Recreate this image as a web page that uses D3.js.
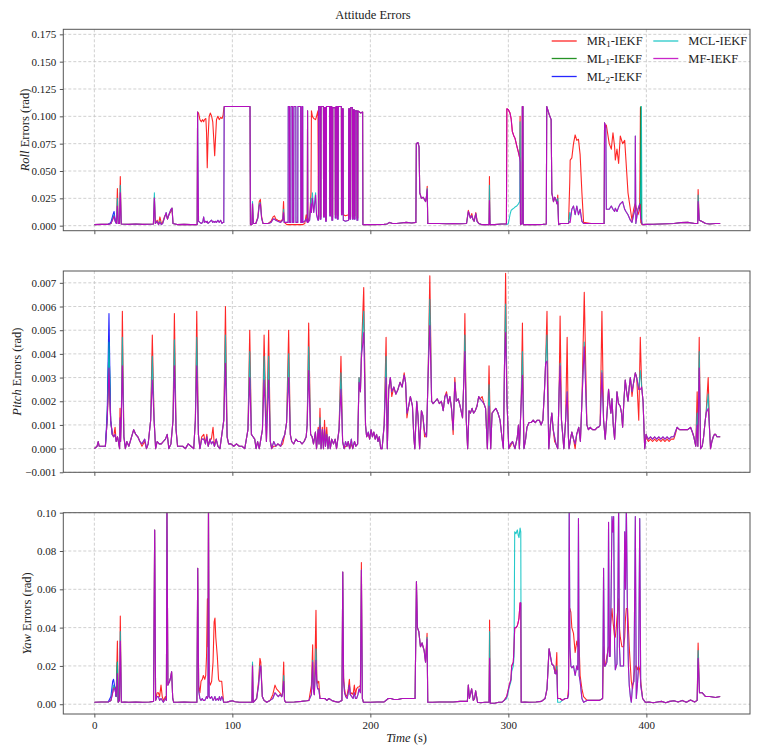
<!DOCTYPE html>
<html><head><meta charset="utf-8">
<script src="https://cdn.jsdelivr.net/npm/d3@7"></script>
<style>body{margin:0;background:#fff} text{font-family:"Liberation Serif","Times New Roman",serif;fill:#222}</style>
</head><body><svg id="c" width="760" height="755"></svg>
<script>
// ---------------- DATA ----------------
const seriesNames = ["MR1-IEKF","ML1-IEKF","ML2-IEKF","MCL-IEKF","MF-IEKF"];
const xTicks = [0,100,200,300,400];
const rollTicks = [0,0.025,0.05,0.075,0.1,0.125,0.15,0.175];
const pitchTicks = [-0.001,0,0.001,0.002,0.003,0.004,0.005,0.006,0.007];
const yawTicks = [0,0.02,0.04,0.06,0.08,0.1];

const rollTime = [
0,5,10,12,13.5,14.3,15.2,16,16.7,17.3,
18.2,18.8,19.5,25,30,35,40,42.8,43.5,44.2,
45.5,46.5,47.5,48.5,49.5,51,52,53,54,55.5,
56.3,57,60,65,70,74.5,74.8,75.5,76.5,77.5,
78.5,79.2,79.8,80.8,81.3,81.8,82.4,83.2,84,85,
85.8,86.5,87.2,87.8,88.5,89.5,90.5,91.5,92.5,93.3,
93.8,94.1,112.8,113.1,114.2,114.6,115.2,117,118.5,119.5,
120.3,121.2,122.2,126,128,129.5,130.5,131.5,133,135,
136.5,137.1,137.6,139.5,140.4,140.5,141.4,141.5,142.4,142.5,
143.6,143.7,144.5,144.6,146,146.1,147.4,147.5,149.5,149.6,
150.3,150.4,151,151.1,152.5,153.5,154.3,154.5,154.7,156,
157,157.3,158,159,160.3,161,162,162.4,162.5,163.5,
163.6,164.2,164.3,166,166.1,166.7,166.8,167.5,167.6,168.1,
168.2,170.5,170.6,171.1,171.2,172,172.1,172.7,172.8,174.5,
174.6,175.1,175.2,176,176.1,176.7,176.8,179,179.1,179.5,
179.6,180.3,180.4,182,184.2,184.3,185,185.1,185.7,185.8,
187,187.1,187.5,187.6,188.3,188.4,188.9,189,190.2,190.3,
190.9,191,193,194.4,194.6,200,210,212,214,216,
219,222,226,230,233,233.3,234.5,235.3,235.8,237,
238.3,239.2,240,240.6,241.2,241.6,245,250,255,260,
265,269.7,271,272.5,273.5,274.3,275.2,276.4,277.3,278.5,
280.5,286,286.3,286.7,290,295,298.6,298.9,300,301.2,
302,302.9,304,304.8,306.1,307.3,308.2,308.5,308.8,309.9,
310.1,310.6,310.8,315,320,325,327.5,327.8,329.5,331,
331.5,332.7,333.6,334.4,335.2,335.8,336.4,338,343.6,344.5,
344.8,346,347.2,348.4,349.6,350.8,352,353.3,354.5,360,
369.4,369.7,370.6,371,373.1,374.6,375.8,377,377.5,378.7,
379.9,381.1,382.8,384.3,385.2,386.7,388.4,389.6,390.8,391.8,
392,392.4,393.9,395.2,395.7,396,396.4,396.8,397.3,400,
405,410,415,420,425,430,435,437.2,437.5,438.3,
440,442.9,446,450,453.5];
const rollMR1 = [
.001,.0012,.0012,.002,.007,.009,.004,.003,.034,.002,
.002,.045,.0015,.0012,.0015,.0012,.0013,.0015,.026,.002,
.005,.001,.008,.002,.003,.009,.010,.006,.010,.013,
.016,.002,.001,.0012,.001,.001,.104,.103,.097,.095,
.097,.095,.097,.098,.085,.053,.080,.100,.103,.100,
.095,.080,.064,.080,.097,.100,.097,.099,.098,.101,
.107,.109,.109,.001,.001,.020,.002,.002,.008,.022,
.024,.008,.002,.002,.004,.008,.009,.006,.005,.004,
.006,.022,.003,.001,.001,.001,.001,.001,.001,.001,
.001,.001,.001,.001,.001,.001,.001,.001,.001,.001,
.001,.001,.001,.001,.002,.010,.004,.105,.003,.008,
.030,.105,.100,.098,.097,.100,.105,.008,.109,.109,
.008,.008,.109,.109,.010,.010,.108,.108,.006,.006,
.109,.109,.012,.012,.109,.109,.008,.008,.108,.108,
.010,.010,.109,.109,.009,.009,.109,.109,.012,.012,
.107,.107,.010,.009,.010,.107,.107,.008,.008,.108,
.108,.008,.008,.106,.106,.009,.009,.105,.105,.007,
.007,.105,.103,.104,.001,.001,.0012,.0015,.003,.002,
.002,.0025,.003,.0025,.003,.075,.076,.072,.030,.025,
.026,.024,.022,.026,.036,.002,.002,.002,.0018,.002,
.0018,.002,.014,.007,.011,.006,.004,.012,.005,.002,
.001,.001,.045,.001,.001,.0015,.0015,.107,.106,.103,
.098,.086,.082,.080,.073,.067,.062,.100,.001,.002,
.109,.109,.001,.001,.001,.0012,.0015,.109,.102,.097,
.030,.022,.026,.024,.020,.028,.001,.002,.002,.040,
.060,.062,.075,.083,.078,.079,.065,.030,.003,.002,
.002,.094,.090,.092,.075,.070,.085,.072,.060,.070,
.057,.082,.075,.078,.060,.030,.015,.005,.015,.020,
.020,.018,.010,.015,.108,.003,.002,.001,.001,.0012,
.0013,.0015,.0018,.002,.0028,.003,.002,.002,.033,.005,
.004,.002,.0015,.002,.002];
const rollML1Time = [394.8,395.2,395.7,396,396.4,396.8];
const rollML1 = [.015,.020,.020,.109,.003,.002];
const rollML2Time = [10,12,13.5,14.3,15.2,16];
const rollML2 = [.0012,.003,.010,.013,.004,.002];
const rollMCL = [
.001,.0012,.0012,.002,.008,.010,.004,.002,.025,.002,
.002,.037,.0015,.0012,.0015,.0012,.0013,.0015,.030,.002,
.004,.001,.004,.001,.002,.008,.012,.006,.010,.015,
.016,.002,.001,.0012,.001,.001,.104,.004,.003,.002,
.003,.008,.003,.004,.003,.004,.002,.003,.004,.005,
.003,.004,.003,.004,.003,.005,.003,.005,.002,.003,
.003,.109,.109,.001,.001,.022,.002,.002,.007,.020,
.021,.007,.002,.002,.003,.006,.006,.005,.004,.003,
.005,.015,.003,.003,.003,.109,.109,.003,.003,.109,
.109,.003,.003,.109,.109,.003,.003,.109,.109,.003,
.003,.109,.109,.003,.004,.006,.003,.105,.003,.005,
.025,.012,.030,.012,.030,.010,.005,.005,.109,.109,
.006,.006,.109,.109,.008,.008,.108,.108,.004,.004,
.109,.109,.009,.009,.109,.109,.005,.005,.108,.108,
.007,.007,.109,.109,.006,.006,.109,.109,.010,.010,
.107,.107,.005,.004,.005,.107,.107,.006,.006,.108,
.108,.006,.006,.106,.106,.006,.006,.105,.105,.005,
.005,.105,.103,.104,.001,.001,.0012,.0015,.003,.002,
.002,.0025,.003,.0025,.003,.075,.076,.072,.030,.025,
.026,.024,.022,.026,.034,.002,.002,.002,.0018,.002,
.0018,.002,.013,.007,.009,.006,.004,.011,.004,.002,
.001,.001,.037,.001,.001,.0015,.0015,.001,.002,.010,
.014,.015,.016,.017,.018,.020,.022,.095,.001,.002,
.109,.109,.001,.001,.001,.0012,.0015,.109,.102,.097,
.030,.022,.026,.024,.020,.025,.001,.002,.002,.012,
.006,.015,.018,.010,.018,.010,.015,.004,.002,.002,
.002,.094,.090,.015,.015,.018,.015,.013,.016,.013,
.017,.020,.022,.015,.013,.010,.005,.003,.010,.015,
.082,.002,.015,.020,.020,.040,.109,.002,.001,.0012,
.0013,.0015,.0018,.002,.0028,.003,.002,.002,.028,.005,
.004,.002,.0015,.002,.002];
const rollMF = [
.001,.0012,.0012,.002,.006,.009,.004,.002,.018,.002,
.002,.030,.0015,.0012,.0015,.0012,.0013,.0015,.025,.002,
.004,.001,.003,.001,.002,.008,.012,.006,.010,.015,
.016,.002,.001,.0012,.001,.001,.104,.004,.003,.002,
.003,.008,.003,.004,.003,.004,.002,.003,.004,.005,
.003,.004,.003,.004,.003,.005,.003,.005,.002,.003,
.003,.109,.109,.001,.001,.020,.002,.002,.007,.018,
.020,.007,.002,.002,.003,.006,.006,.005,.004,.003,
.005,.012,.003,.003,.003,.109,.109,.003,.003,.109,
.109,.003,.003,.109,.109,.003,.003,.109,.109,.003,
.003,.109,.109,.003,.004,.006,.003,.105,.003,.005,
.020,.012,.025,.012,.028,.010,.005,.005,.109,.109,
.006,.006,.109,.109,.008,.008,.108,.108,.004,.004,
.109,.109,.009,.009,.109,.109,.005,.005,.108,.108,
.007,.007,.109,.109,.006,.006,.109,.109,.010,.010,
.107,.107,.005,.004,.005,.107,.107,.006,.006,.108,
.108,.006,.006,.106,.106,.006,.006,.105,.105,.005,
.005,.105,.103,.104,.001,.001,.0012,.0015,.003,.002,
.002,.0025,.003,.0025,.003,.075,.076,.072,.030,.025,
.026,.024,.022,.026,.033,.002,.002,.002,.0018,.002,
.0018,.002,.013,.007,.009,.006,.004,.011,.004,.002,
.001,.001,.023,.001,.001,.0015,.0015,.107,.106,.103,
.098,.086,.082,.080,.073,.067,.062,.058,.001,.002,
.109,.109,.001,.001,.001,.0012,.0015,.109,.102,.097,
.030,.022,.026,.024,.020,.022,.001,.002,.002,.004,
.003,.015,.018,.010,.018,.010,.015,.004,.002,.002,
.002,.094,.090,.015,.015,.018,.015,.013,.016,.013,
.017,.020,.022,.015,.013,.010,.005,.003,.010,.015,
.082,.002,.015,.020,.010,.006,.005,.002,.001,.0012,
.0013,.0015,.0018,.002,.0028,.003,.002,.002,.022,.005,
.004,.002,.0015,.002,.002];

const pitchTime = [
0,2,2.8,3.5,8,9.3,10.6,11.8,13,14,
15,15.8,16.8,18.3,18.6,19,19.6,20.3,21.4,22.5,
23.5,25,26.5,28.5,30,31.5,33,34.5,36.5,37.8,
39,40.8,42,43.3,44.4,45.5,47,48.5,50,51.5,
52.8,54,55.5,57,58,59.2,60.3,62,64,66,
68,70,72,73.2,74.2,75.4,76.5,77.8,79.3,80.5,
81.5,82.5,83.8,84.8,86,87,88.3,89.5,91,93.8,
95,96.2,97.3,99,101,103,105,107,109,111.3,
112.6,113.8,115,116.2,117.2,118.3,119.5,121.8,123,124.7,
126.3,127.5,128.5,130,131.5,133,135,136.5,138,139.3,
140.8,142,143,144.5,146,147.5,149,150.5,152,153.5,
154.2,155.3,156.7,157.8,158.8,160.2,161,162.2,162.8,163.5,
164.3,165.2,166,166.8,167.5,168.4,169.3,170.2,171,172,
173.3,174.5,175.5,177.3,178.7,179.9,181,182,183,184,
185,186.2,187.2,188.5,189.5,190.8,191.8,192.8,193.5,195.2,
196.5,197.3,198.5,199.5,200.5,201.5,202.5,203.5,204.5,205.5,
206.5,207.5,208.5,210,211.4,212.3,213.3,214.5,215.5,217,
218.5,220,221.5,223,224.5,225.5,226.5,227.5,229,230.5,
231.5,232.2,233.6,234.5,235.7,237,238,239.3,240.7,241.8,
243.1,244.4,245.5,247,248.5,250,251.5,252.8,254,255.2,
256.5,257.6,258.8,260,261.2,262.3,263.7,265,266.8,267.8,
268.5,269.5,270.5,271.5,272.5,273.7,274.8,276,277.3,278.5,
279.5,281,282.3,283.5,284.8,286,287.2,288.2,289.5,291,
292.5,294,295.3,296.4,297.2,298,299,300.3,301.5,303,
304.8,306.5,307.3,308,309.3,310.2,311.3,312.5,313.5,315,
316.5,318,319.5,321,322.5,323.7,325,326.2,327,328,
329.3,330.5,331.5,332.5,333.5,334.5,335.8,336.8,337.5,338.5,
339.5,340.2,341.5,342.6,343.5,344,345,346,347.2,348.4,
349.5,351,352.2,353.3,355,356.9,358,359.3,361,363,
364.5,365.4,366.5,367.8,369,370.2,371.5,372.6,373.5,374.3,
375.1,376,377,378,378.7,379.8,381,382,382.8,383.7,
384.7,385.7,386.7,387.6,388.4,389.6,390.8,392,393,394.5,
395.6,396.6,397.6,398.8,399.8,400.5,401.5,403,404.5,406,
407.5,409,410.5,412,413.5,415,416.5,418,419.9,421,
422.3,424,426,428,430,432,433.3,434.4,435.8,436.8,
437.3,438.3,439.3,440.5,441.5,442.5,443.3,444.8,445.8,446.5,
447.5,448.5,449.3,450.2,451.2,452.3,453.5];
const pitchMR1 = [
0,.0001,.0003,.0001,.0001,.0012,.0033,.0012,.0006,.0005,
.0009,.0003,.0005,0,.0017,.0003,.0015,.0058,.0005,0,
.0003,.0001,.0004,.0008,.0006,.0005,.0003,.0001,.0003,0,
.0002,.0012,.0048,.0012,0,.0003,.0002,.0002,.0003,.0004,
.0006,0,.0002,.0012,.0057,.0008,.0001,.0001,.0001,0,
.0002,.0001,0,.0012,.0058,.0006,0,.0005,.0006,.0002,
.0006,.0001,.0004,.0004,.0009,.0001,.0004,.0001,0,.0012,
.0060,.0005,.0002,.0002,.0001,.0002,.0001,.0001,0,.0008,
.0050,.0006,.0005,.0004,0,.0003,0,.0008,.0048,.0003,
.0050,.0003,0,.0001,.0001,.0002,.0001,.0002,.0006,.0011,
.0050,.0006,.0003,.0002,.0004,.0003,.0003,.0002,.0003,.0005,
.0010,.0053,.0006,.0005,.0002,.0007,0,.0009,.0002,.0017,
0,.0009,0,.0012,.0001,.0009,0,.0005,0,.0004,
.0002,.0004,0,.0008,.0039,.0003,0,.0001,.0001,.0003,
0,.0002,0,.0003,.0001,.0002,.0030,.0024,.0040,.0068,
.0010,.0005,.0006,.0004,.0008,.0005,.0007,.0004,.0006,.0003,
.0005,0,0,.0010,.0047,0,.0025,.0030,.0022,.0026,
.0023,.0025,.0028,.0026,.0032,.0028,.0013,.0017,.0022,.0018,
.0005,0,.0020,.0014,0,.0016,.0014,.0005,.0005,.0030,
.0073,.0020,.0019,.0020,.0021,.0019,.0020,.0016,.0022,.0024,
.0019,.0022,.0017,.0006,.0030,.0020,.0021,.0018,.0013,.0030,
.0057,.0012,0,.0016,.0015,.0017,.0015,.0016,.0018,.0022,
.0021,.0022,.0019,.0017,0,.0035,0,.0015,.0016,.0017,
.0015,.0012,.0005,0,.0035,.0074,.0020,0,.0001,.0003,
0,.0005,.0010,0,.0020,.0053,0,.0004,.0009,.0011,
.0011,.0012,.0011,.0012,.0012,.0010,.0012,.0025,.0036,.0058,
0,.0010,.0015,.0008,.0003,.0002,0,.0025,.0056,.0012,
.0005,0,.0012,.0047,.0005,0,.0004,.0007,.0004,0,
.0006,.0009,.0003,.0020,.0066,.0010,.0008,.0009,.0008,.0008,
.0009,.0009,.0010,.0058,.0012,.0004,.0015,.0025,.0019,.0015,
.0021,.0010,.0004,.0015,.0024,.0019,.0018,.0015,.0009,.0020,
.0029,.0024,.0020,.0026,.0030,.0022,.0028,.0032,.0030,.0012,
.0047,.0026,.0020,0,.0006,.0004,.0003,.0004,.0003,.0004,
.0003,.0004,.0003,.0004,.0003,.0004,.0003,.0004,.0004,.0006,
.0009,.0008,.0008,.0008,.0008,.0009,.0007,.0005,.0001,.0024,
.0001,.0047,0,.0001,.0005,.0011,.0015,.0030,.0008,0,
.0003,.0005,.0006,.0006,.0005,.0005,.0005];
const pitchML1Time = [9.3,10.6,11.8];
const pitchML1 = [.0012,.0045,.0012];
const pitchML2Time = [8,9.3,10.6,11.8,13];
const pitchML2 = [.0001,.0015,.0057,.0012,.0006];
const pitchMCL = [
0,.0001,.0003,.0001,.0001,.0012,.0045,.0012,.0006,.0005,
.0006,.0003,.0005,0,.0012,.0003,.0015,.0047,.0005,0,
.0003,.0001,.0004,.0008,.0006,.0005,.0003,.0002,.0004,0,
.0002,.0012,.0039,.0012,0,.0003,.0002,.0002,.0003,.0004,
.0006,0,.0002,.0012,.0046,.0008,.0001,.0001,.0001,0,
.0002,.0001,0,.0012,.0047,.0006,0,.0004,.0004,.0002,
.0005,.0001,.0004,.0002,.0003,.0001,.0004,.0001,0,.0012,
.0048,.0005,.0002,.0002,.0001,.0002,.0001,.0001,0,.0008,
.0041,.0006,.0005,.0004,0,.0003,0,.0008,.0039,.0003,
.0039,.0003,0,.0003,.0001,.0002,.0001,.0004,.0006,.0011,
.0040,.0006,.0003,.0002,.0004,.0003,.0003,.0002,.0003,.0005,
.0010,.0043,.0006,.0005,.0002,.0007,0,.0008,.0002,.0013,
0,.0008,0,.0008,.0001,.0006,0,.0005,0,.0004,
.0002,.0004,0,.0008,.0032,.0003,0,.0003,.0001,.0003,
0,.0004,0,.0003,.0001,.0002,.0030,.0024,.0040,.0058,
.0010,.0005,.0007,.0004,.0008,.0005,.0007,.0004,.0006,.0003,
.0005,0,0,.0010,.0039,0,.0025,.0030,.0024,.0026,
.0023,.0025,.0028,.0026,.0031,.0028,.0015,.0017,.0022,.0018,
.0005,0,.0020,.0014,0,.0016,.0014,.0007,.0005,.0030,
.0063,.0020,.0019,.0020,.0021,.0019,.0020,.0016,.0022,.0023,
.0019,.0022,.0017,.0008,.0028,.0020,.0021,.0018,.0013,.0030,
.0048,.0012,0,.0016,.0015,.0017,.0015,.0016,.0018,.0022,
.0021,.0020,.0019,.0017,0,.0027,0,.0015,.0016,.0017,
.0015,.0012,.0005,0,.0035,.0061,.0020,0,.0002,.0003,
0,.0005,.0010,0,.0020,.0041,0,.0004,.0009,.0011,
.0011,.0012,.0011,.0012,.0012,.0010,.0012,.0025,.0036,.0048,
0,.0010,.0015,.0008,.0005,.0002,0,.0025,.0036,.0012,
.0005,0,.0012,.0024,.0005,0,.0004,.0007,.0004,.0002,
.0006,.0009,.0003,.0020,.0045,.0010,.0008,.0009,.0008,.0008,
.0009,.0009,.0010,.0033,.0012,.0004,.0015,.0025,.0019,.0015,
.0021,.0010,.0004,.0015,.0024,.0019,.0018,.0015,.0009,.0020,
.0029,.0024,.0020,.0026,.0030,.0024,.0028,.0032,.0030,.0025,
.0033,.0026,.0020,0,.0006,.0005,.0004,.0005,.0004,.0005,
.0004,.0005,.0004,.0005,.0004,.0005,.0004,.0005,.0005,.0007,
.0009,.0008,.0008,.0008,.0008,.0009,.0007,.0005,.0001,.0015,
.0001,.0041,0,.0001,.0005,.0011,.0015,.0023,.0008,0,
.0003,.0005,.0006,.0006,.0005,.0005,.0005];
const pitchMF = [
0,.0001,.0003,.0001,.0001,.0012,.0034,.0012,.0006,.0005,
.0006,.0003,.0005,0,.0013,.0003,.0015,.0035,.0005,0,
.0003,.0001,.0004,.0008,.0006,.0005,.0003,.0002,.0004,0,
.0002,.0012,.0029,.0012,0,.0003,.0002,.0002,.0003,.0004,
.0006,0,.0002,.0012,.0035,.0008,.0001,.0001,.0001,0,
.0002,.0001,0,.0012,.0035,.0006,0,.0004,.0004,.0002,
.0005,.0001,.0004,.0002,.0003,.0001,.0004,.0001,0,.0012,
.0036,.0005,.0002,.0002,.0001,.0002,.0001,.0001,0,.0008,
.0030,.0006,.0005,.0004,0,.0003,0,.0008,.0029,.0003,
.0029,.0003,0,.0003,.0001,.0002,.0001,.0004,.0006,.0011,
.0030,.0006,.0003,.0002,.0004,.0003,.0003,.0002,.0003,.0005,
.0010,.0033,.0006,.0005,.0002,.0007,0,.0008,.0002,.0010,
0,.0008,0,.0008,.0001,.0006,0,.0005,0,.0004,
.0002,.0004,0,.0008,.0025,.0003,0,.0003,.0001,.0003,
0,.0004,0,.0003,.0001,.0002,.0028,.0024,.0038,.0049,
.0010,.0005,.0007,.0004,.0008,.0005,.0007,.0004,.0006,.0003,
.0005,0,0,.0010,.0030,0,.0025,.0030,.0024,.0026,
.0023,.0025,.0028,.0026,.0031,.0028,.0015,.0017,.0022,.0018,
.0005,0,.0020,.0014,0,.0016,.0014,.0007,.0005,.0030,
.0052,.0020,.0019,.0020,.0021,.0019,.0020,.0016,.0022,.0023,
.0019,.0022,.0017,.0008,.0028,.0020,.0021,.0018,.0013,.0030,
.0041,.0012,0,.0016,.0015,.0017,.0015,.0016,.0018,.0022,
.0021,.0020,.0019,.0017,0,.0018,0,.0015,.0016,.0017,
.0015,.0012,.0005,0,.0035,.0049,.0020,0,.0002,.0003,
0,.0005,.0010,0,.0020,.0031,0,.0004,.0009,.0011,
.0011,.0012,.0011,.0012,.0012,.0010,.0012,.0025,.0036,.0037,
0,.0010,.0015,.0008,.0005,.0002,0,.0025,.0035,.0012,
.0005,0,.0012,.0024,.0005,0,.0004,.0007,.0004,.0002,
.0006,.0009,.0003,.0020,.0043,.0010,.0008,.0009,.0008,.0008,
.0009,.0009,.0010,.0032,.0012,.0004,.0015,.0025,.0019,.0015,
.0021,.0010,.0004,.0015,.0024,.0019,.0018,.0015,.0009,.0020,
.0029,.0024,.0020,.0026,.0030,.0024,.0028,.0032,.0030,.0025,
.0025,.0026,.0020,0,.0006,.0005,.0004,.0005,.0004,.0005,
.0004,.0005,.0004,.0005,.0004,.0005,.0004,.0005,.0005,.0007,
.0009,.0008,.0008,.0008,.0008,.0009,.0007,.0005,.0001,.0010,
.0001,.0034,0,.0001,.0005,.0011,.0015,.0017,.0008,0,
.0003,.0005,.0006,.0006,.0005,.0005,.0005];

const yawTime = [
0,5,10,12,13.3,13.9,15,15.8,16.7,17.3,
18.2,18.8,19.6,22,25,30,35,40,42.9,43.7,
44.4,45.5,46.4,47.3,48.3,49.2,50,51.5,52.2,52.6,
53.3,54.5,55.3,56,56.8,57.5,60,65,70,74.3,
74.9,75.6,76.5,77.3,78.2,79,80,80.7,81.3,81.9,
82.3,82.7,83.2,84,85,86,86.8,87.4,88,89.1,
90,90.6,91.5,92.3,93,93.7,96,98,100,102,
105,110,114.2,114.6,115.1,116.5,117.6,119,120,120.6,
121.7,123,124.9,127.3,129.3,130.9,132,133.3,134.5,135.8,
136.4,137.2,137.8,138.8,145,150,153.9,155.5,157.3,158.2,
158.7,159.4,160.6,161.2,161.8,162.6,163.5,165,167,168.5,
170,172,174,176.8,179.4,180,180.6,181.3,182.2,183.2,
184,184.8,185.5,186.5,187.5,188.4,189.2,190,191,191.8,
192.8,193.5,194.2,195,200,205,210,213,215,217,
220,223,226,229,232.4,233.4,234.1,235.1,236.3,237.5,
238.2,239,240,241.1,241.6,245,250,255,260,265,
270.3,271,271.8,272.4,273.4,274.6,275.5,276.3,277,277.7,
280,283,286,286.4,286.9,290,293,295.2,297,298.8,
300.7,301.9,302.4,303.6,304.1,304.6,305.5,306.5,307.2,307.7,
308.5,309,309.3,312,315,320,324,326.6,328,329.5,
330.5,331.5,332.9,333.9,334.6,335.1,335.7,337.5,339,341.2,
342.9,343.6,344.1,344.6,345.3,346,347.2,348.4,349.6,350.3,
350.8,351.3,352,353.3,354.5,357,360,363,366,368.3,
369,369.6,370.2,371.4,372.2,372.6,373.2,373.8,374.5,375.1,
375.6,376.3,377,377.5,378.2,378.7,379.4,379.9,380.5,381.1,
382.3,383.5,384.3,384.9,385.5,386.4,387,387.6,388.4,389.1,
390,391,392,392.7,393.5,394.4,395.2,395.9,397.3,399.3,
402,405,408,411,414,417,420,423,426,429,
432,435,436.8,437.5,438.5,440.4,442.9,446,450,453.5];
const yawMR1 = [
.001,.0012,.0012,.002,.006,.009,.009,.004,.033,.001,
.002,.046,.001,.0012,.001,.0011,.001,.0012,.0015,.091,
.002,.006,.006,.004,.010,.004,.002,.004,.002,.105,
.010,.012,.014,.017,.003,.001,.001,.0012,.001,.001,
.071,.010,.006,.012,.013,.015,.013,.015,.025,.055,
.030,.105,.012,.010,.012,.022,.043,.045,.035,.025,
.013,.012,.012,.012,.006,.001,.001,.0015,.0018,.0013,
.001,.001,.001,.021,.001,.002,.003,.012,.024,.022,
.004,.002,.001,.002,.005,.010,.008,.007,.006,.004,
.006,.022,.002,.001,.0012,.0015,.0018,.002,.010,.031,
.008,.005,.049,.013,.011,.012,.003,.003,.003,.002,
.003,.002,.0015,.001,.002,.069,.014,.008,.004,.005,
.008,.013,.005,.006,.005,.010,.005,.008,.009,.009,
.010,.074,.003,.001,.001,.0012,.0012,.003,.003,.0025,
.0025,.003,.003,.003,.003,.064,.040,.038,.030,.032,
.030,.028,.022,.037,.001,.001,.0012,.0012,.0012,.0015,
.0015,.010,.003,.005,.008,.002,.003,.007,.004,.001,
.0008,.001,.001,.044,.0005,.0005,.001,.001,.002,.004,
.010,.013,.020,.022,.030,.040,.040,.041,.043,.045,
.053,.053,.001,.0012,.001,.0012,.0015,.003,.008,.029,
.025,.021,.020,.016,.020,.027,.003,.003,.002,.003,
.003,.008,.048,.050,.048,.040,.037,.027,.033,.030,
.035,.030,.015,.008,.004,.002,.002,.002,.002,.003,
.030,.020,.020,.025,.028,.030,.030,.040,.045,.050,
.045,.040,.035,.035,.040,.045,.050,.055,.040,.035,
.030,.030,.035,.045,.050,.050,.040,.030,.020,.012,
.008,.015,.020,.020,.018,.020,.018,.012,.003,.001,
.0012,.0008,.0012,.0015,.0008,.0015,.0018,.0012,.0020,.0010,
.0022,.0012,.002,.032,.006,.006,.004,.004,.0035,.004];
const yawML1Time = [15.8,16.7,17.3];
const yawML1 = [.004,.022,.001];
const yawML2Time = [10,12,13.3,13.9,15,15.8];
const yawML2 = [.0012,.004,.012,.013,.008,.004];
const yawMCL = [
.001,.0012,.0012,.002,.008,.010,.008,.004,.022,.001,
.002,.038,.001,.0012,.001,.0011,.001,.0012,.0015,.091,
.002,.004,.004,.002,.003,.002,.001,.003,.002,.105,
.010,.012,.014,.017,.003,.001,.001,.0012,.001,.001,
.071,.007,.003,.002,.003,.002,.002,.003,.004,.003,
.004,.105,.004,.003,.004,.002,.003,.004,.002,.003,
.002,.004,.002,.004,.003,.001,.001,.0015,.0018,.0013,
.001,.001,.001,.022,.001,.002,.003,.010,.020,.020,
.004,.002,.001,.002,.003,.006,.005,.004,.005,.004,
.006,.015,.002,.001,.0012,.0015,.0018,.002,.005,.023,
.008,.005,.029,.011,.008,.008,.003,.003,.003,.002,
.003,.002,.0015,.001,.002,.069,.012,.006,.004,.003,
.006,.010,.005,.004,.003,.006,.003,.003,.005,.008,
.006,.070,.003,.001,.001,.0012,.0012,.003,.003,.0025,
.0025,.003,.003,.003,.003,.064,.040,.038,.030,.032,
.030,.028,.022,.035,.001,.001,.0012,.0012,.0012,.0015,
.0015,.010,.003,.005,.008,.002,.003,.007,.004,.001,
.0008,.001,.001,.038,.0005,.0005,.001,.001,.002,.003,
.009,.012,.017,.020,.025,.090,.089,.091,.088,.087,
.092,.090,.001,.0012,.001,.0012,.0015,.003,.008,.029,
.025,.021,.020,.016,.016,.020,.001,.001,.002,.003,
.003,.005,.105,.030,.020,.019,.020,.015,.020,.018,
.097,.015,.012,.003,.001,.002,.002,.002,.002,.003,
.071,.020,.020,.022,.030,.095,.025,.025,.060,.098,
.090,.098,.030,.018,.020,.021,.060,.105,.030,.020,
.020,.020,.090,.060,.105,.040,.020,.010,.004,.001,
.010,.012,.098,.003,.010,.020,.097,.010,.003,.001,
.0012,.0008,.0012,.0015,.0008,.0015,.0018,.0012,.0020,.0010,
.0022,.0012,.002,.028,.006,.006,.004,.004,.0035,.004];
const yawMF = [
.001,.0012,.0012,.002,.006,.008,.008,.004,.016,.001,
.002,.033,.001,.0012,.001,.0011,.001,.0012,.0015,.091,
.002,.004,.004,.002,.003,.002,.001,.003,.002,.105,
.010,.012,.014,.017,.003,.001,.001,.0012,.001,.001,
.071,.007,.003,.002,.003,.002,.002,.003,.004,.003,
.004,.105,.004,.003,.004,.002,.003,.004,.002,.003,
.002,.004,.002,.004,.003,.001,.001,.0015,.0018,.0013,
.001,.001,.001,.020,.001,.002,.003,.010,.018,.020,
.004,.002,.001,.002,.003,.006,.005,.004,.005,.004,
.006,.012,.002,.001,.0012,.0015,.0018,.002,.005,.022,
.008,.005,.023,.011,.008,.008,.003,.003,.003,.002,
.003,.002,.0015,.001,.002,.069,.012,.006,.004,.003,
.006,.010,.005,.004,.003,.006,.003,.003,.005,.008,
.006,.070,.003,.001,.001,.0012,.0012,.003,.003,.0025,
.0025,.003,.003,.003,.003,.064,.040,.038,.030,.032,
.030,.028,.022,.034,.001,.001,.0012,.0012,.0012,.0015,
.0015,.010,.003,.005,.008,.002,.003,.007,.004,.001,
.0008,.001,.001,.024,.0005,.0005,.001,.001,.002,.004,
.010,.013,.020,.022,.030,.040,.040,.041,.043,.045,
.053,.053,.001,.0012,.001,.0012,.0015,.003,.008,.029,
.025,.021,.020,.016,.016,.018,.003,.003,.002,.003,
.003,.005,.105,.030,.020,.019,.020,.015,.020,.018,
.097,.015,.012,.003,.001,.002,.002,.002,.002,.003,
.071,.020,.020,.022,.030,.095,.025,.025,.060,.098,
.090,.098,.030,.018,.020,.021,.060,.105,.030,.020,
.020,.020,.090,.060,.105,.040,.020,.010,.004,.001,
.010,.012,.098,.003,.010,.020,.097,.010,.003,.001,
.0012,.0008,.0012,.0015,.0008,.0015,.0018,.0012,.0020,.0010,
.0022,.0012,.002,.024,.006,.006,.004,.004,.0035,.004];

// ---------------- DRAWING ----------------
const colors = ["#ff0000","#008000","#0000ff","#00bfbf","#bf00bf"];
const opac = [0.85,0.85,0.85,0.85,0.92];
const svg = d3.select("#c");
const X0 = 63.3, X1 = 750;
const x = d3.scaleLinear().domain([-22.5, 475.1]).range([X0, X1]);

const panels = [
  {key:"roll", top:29.3, bottom:230.7, domain:[-0.0046,0.1796], ticks:rollTicks, fmt:d3.format(".3f"),
   label:"Roll", labelX:25,
   series:[[rollTime,rollMR1],[rollML1Time,rollML1],[rollML2Time,rollML2],[rollTime,rollMCL],[rollTime,rollMF]]},
  {key:"pitch", top:271, bottom:472.3, domain:[-0.001,0.0075], ticks:pitchTicks, fmt:d3.format(".3f"),
   label:"Pitch", labelX:17,
   series:[[pitchTime,pitchMR1],[pitchML1Time,pitchML1],[pitchML2Time,pitchML2],[pitchTime,pitchMCL],[pitchTime,pitchMF]]},
  {key:"yaw", top:512.7, bottom:714, domain:[-0.0051,0.1], ticks:yawTicks, fmt:d3.format(".2f"),
   label:"Yaw", labelX:27, bottomAxis:true,
   series:[[yawTime,yawMR1],[yawML1Time,yawML1],[yawML2Time,yawML2],[yawTime,yawMCL],[yawTime,yawMF]]}
];

svg.append("text").attr("x",373).attr("y",19).attr("text-anchor","middle")
  .style("font-size","12.5px").text("Attitude Errors");

panels.forEach((p,pi)=>{
  const y = d3.scaleLinear().domain(p.domain).range([p.bottom,p.top]);
  const g = svg.append("g");
  g.selectAll("line.gx").data(xTicks).join("line")
    .attr("x1",d=>x(d)).attr("x2",d=>x(d)).attr("y1",p.top).attr("y2",p.bottom)
    .attr("stroke","#c4c4c4").attr("stroke-width",0.8).attr("stroke-dasharray","3,2");
  g.selectAll("line.gy").data(p.ticks).join("line")
    .attr("x1",X0).attr("x2",X1).attr("y1",d=>y(d)).attr("y2",d=>y(d))
    .attr("stroke","#c4c4c4").attr("stroke-width",0.8).attr("stroke-dasharray","3,2");
  svg.append("clipPath").attr("id","clip"+pi).append("rect")
    .attr("x",X0).attr("y",p.top).attr("width",X1-X0).attr("height",p.bottom-p.top);
  const lg = svg.append("g").attr("clip-path",`url(#clip${pi})`);
  const line = d3.line().x(d=>x(d[0])).y(d=>y(d[1]));
  p.series.forEach((s,si)=>{
    const n = Math.min(s[0].length, s[1].length);
    if (s[0].length!==s[1].length) console.log("length mismatch", p.key, si, s[0].length, s[1].length);
    const pts = d3.range(n).map(i=>[s[0][i], s[1][i]]);
    lg.append("path").datum(pts).attr("d",line).attr("fill","none")
      .attr("stroke",colors[si]).attr("stroke-width",1.1).attr("stroke-opacity",opac[si])
      .attr("stroke-linejoin","round");
  });
  const ya = d3.axisLeft(y).tickValues(p.ticks).tickFormat(p.fmt).tickSize(3.5).tickPadding(3.5);
  const yg = svg.append("g").attr("transform",`translate(${X0},0)`).call(ya);
  const xa = d3.axisBottom(x).tickValues(xTicks).tickSize(3.5).tickPadding(4)
     .tickFormat(p.bottomAxis ? d3.format("d") : "");
  const xg = svg.append("g").attr("transform",`translate(0,${p.bottom})`).call(xa);
  [yg,xg].forEach(a=>{
    a.select(".domain").remove();
    a.selectAll(".tick line").attr("stroke","#444").attr("stroke-width",0.9);
    a.selectAll(".tick text").style("font-size","11px").style("font-family","'Liberation Serif',serif").attr("fill","#222");
  });
  svg.append("rect").attr("x",X0).attr("y",p.top).attr("width",X1-X0).attr("height",p.bottom-p.top)
    .attr("fill","none").attr("stroke","#555").attr("stroke-width",1);
  const cy = (p.top+p.bottom)/2;
  const t = svg.append("text").attr("transform",`translate(${p.labelX},${cy}) rotate(-90)`)
    .attr("text-anchor","middle").attr("dominant-baseline","central").style("font-size","12.5px");
  t.append("tspan").style("font-style","italic").text(p.label);
  t.append("tspan").text(" Errors (rad)");
});

const xl = svg.append("text").attr("x",(X0+X1)/2).attr("y",742).attr("text-anchor","middle").style("font-size","12.5px");
xl.append("tspan").style("font-style","italic").text("Time");
xl.append("tspan").text(" (s)");

const legendItems = [
  {i:0, base:"MR", sub:"1", col:0, row:0},
  {i:1, base:"ML", sub:"1", col:0, row:1},
  {i:2, base:"ML", sub:"2", col:0, row:2},
  {i:3, base:"MCL-IEKF", sub:null, col:1, row:0},
  {i:4, base:"MF-IEKF", sub:null, col:1, row:1}
];
const colX = [551.7, 653.3], rowY = [41, 58.5, 76.5];
const leg = svg.append("g");
legendItems.forEach(it=>{
  const lx = colX[it.col], ly = rowY[it.row];
  leg.append("line").attr("x1",lx).attr("x2",lx+25).attr("y1",ly).attr("y2",ly)
    .attr("stroke",colors[it.i]).attr("stroke-width",1.3).attr("stroke-opacity",0.85);
  const tx = leg.append("text").attr("x",lx+35).attr("y",ly).attr("dominant-baseline","central")
    .style("font-size","12.5px");
  tx.append("tspan").text(it.base);
  if (it.sub){
    tx.append("tspan").attr("dy",3).style("font-size","9px").text(it.sub);
    tx.append("tspan").attr("dy",-3).text("-IEKF");
  }
});
</script></body></html>
